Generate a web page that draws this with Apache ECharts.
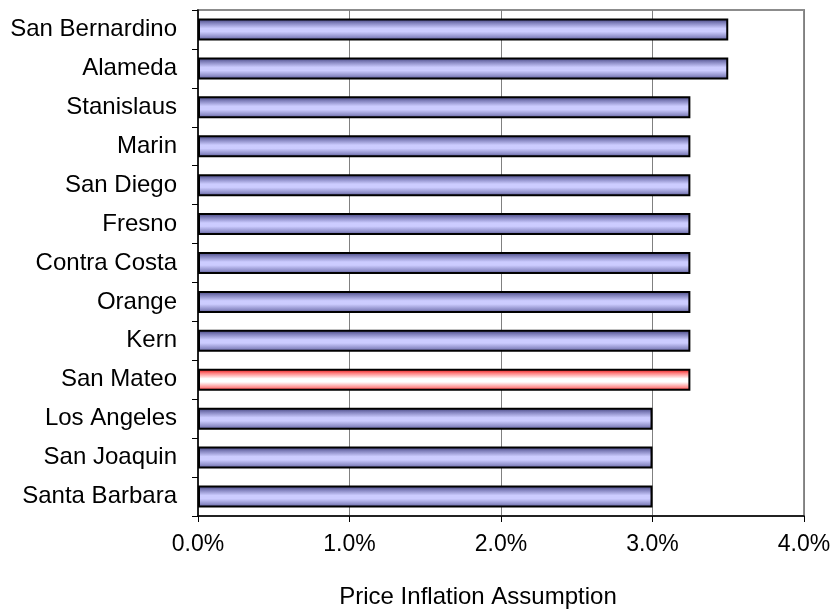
<!DOCTYPE html>
<html>
<head>
<meta charset="utf-8">
<script src="https://cdn.jsdelivr.net/npm/echarts@6/dist/echarts.min.js"></script>
<style>html,body{margin:0;padding:0;background:#fff;}#c{width:837px;height:610px;}</style>
</head>
<body>
<div id="c"></div>
<script>
const categories = ["San Bernardino","Alameda","Stanislaus","Marin","San Diego","Fresno","Contra Costa","Orange","Kern","San Mateo","Los Angeles","San Joaquin","Santa Barbara"];
const values = [3.5,3.5,3.25,3.25,3.25,3.25,3.25,3.25,3.25,3.25,3.0,3.0,3.0];
const highlighted = ["San Mateo"];
const xTicks = [0,1,2,3,4];

const blueGrad = new echarts.graphic.LinearGradient(0,0,0,1,[
  {offset:0,color:'#3c3c78'},{offset:0.2,color:'#8080bb'},{offset:0.45,color:'#ccccff'},{offset:0.6,color:'#ccccff'},{offset:0.85,color:'#8a8ac4'},{offset:1,color:'#4a4a86'}]);
const redGrad = new echarts.graphic.LinearGradient(0,0,0,1,[
  {offset:0,color:'#e00000'},{offset:0.2,color:'#ff8080'},{offset:0.45,color:'#ffffff'},{offset:0.6,color:'#ffffff'},{offset:0.85,color:'#ff8a8a'},{offset:1,color:'#e81010'}]);

const FONT = 'Liberation Sans, Arial';
const chart = echarts.init(document.getElementById('c'));
chart.setOption({
  animation:false,
  grid:{left:198,right:33,top:10,bottom:94,containLabel:false,outerBoundsMode:'none',
    show:true,borderColor:'#8c8c8c',borderWidth:2,backgroundColor:'transparent'},
  xAxis:{type:'value',min:xTicks[0],max:xTicks[xTicks.length-1],interval:1,
    axisLine:{show:true,lineStyle:{color:'#000',width:1.5}},
    axisTick:{show:true,length:6,lineStyle:{color:'#000'}},
    splitLine:{show:true,lineStyle:{color:'#808080',width:1}},
    axisLabel:{formatter:v=>v.toFixed(1)+'%',color:'#000',fontSize:23,fontFamily:FONT,margin:17},
    name:'Price Inflation Assumption',nameLocation:'middle',nameGap:69,
    nameTextStyle:{color:'#000',fontSize:24,fontFamily:FONT,padding:[0,46,0,0]}},
  yAxis:{type:'category',data:categories,inverse:true,
    axisLine:{show:true,lineStyle:{color:'#000',width:1.5}},
    axisTick:{show:true,length:6,lineStyle:{color:'#000'}},
    axisLabel:{color:'#000',fontSize:24,fontFamily:FONT,margin:21}},
  series:[{type:'bar',barWidth:22,
    data:categories.map((c,i)=>({value:values[i],itemStyle:{color:highlighted.includes(c)?redGrad:blueGrad}})),
    itemStyle:{borderColor:'#000',borderWidth:2}}]
});
</script>
</body>
</html>
